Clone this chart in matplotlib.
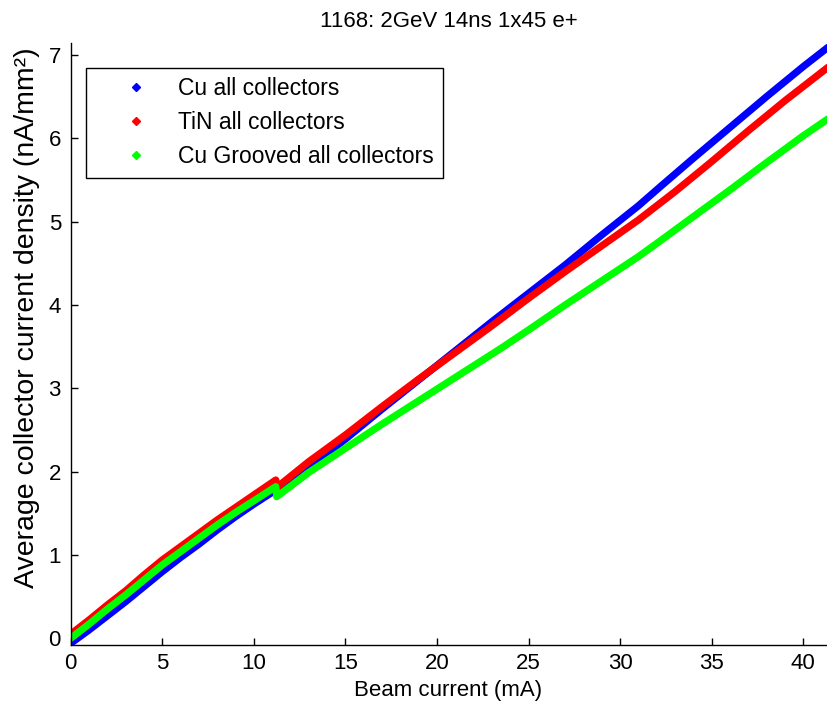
import matplotlib
matplotlib.use('Agg')
import numpy as np
import matplotlib.pyplot as plt
from matplotlib.lines import Line2D

plt.rcParams['font.family'] = ['Liberation Sans', 'DejaVu Sans']

# Beam current (mA) and collector current density (nA/mm^2)
cu_x = [0, 1, 2, 3, 4, 5, 6, 7, 8, 9, 10, 11.2,
        11.25, 13, 15, 17, 19, 21, 23, 25, 27, 29, 31, 32.2, 34, 36, 38, 40, 41.4]
cu_y = [-0.06, 0.10, 0.27, 0.44, 0.62, 0.80, 0.97, 1.13, 1.30, 1.46, 1.61, 1.78,
        1.74, 2.05, 2.39, 2.75, 3.10, 3.45, 3.80, 4.14, 4.48, 4.84, 5.19, 5.42, 5.76, 6.13, 6.50, 6.86, 7.10]

tin_x = [0, 1, 2, 3, 4, 5, 6, 7, 8, 9, 10, 11.2,
         11.25, 13, 15, 17, 19, 21, 23, 25, 27, 29, 31, 33, 35, 37, 39, 41.4]
tin_y = [0.05, 0.22, 0.40, 0.57, 0.76, 0.94, 1.10, 1.26, 1.42, 1.57, 1.72, 1.90,
         1.81, 2.12, 2.44, 2.78, 3.11, 3.43, 3.75, 4.08, 4.40, 4.71, 5.02, 5.36, 5.72, 6.09, 6.45, 6.86]

grv_x = [0, 1, 2, 3, 4, 5, 6, 7, 8, 9, 10, 11.2,
         11.25, 13, 15, 17, 18, 20, 22, 23.5, 25, 27, 29, 31, 32.2, 34, 36, 37.7, 40, 41.4]
grv_y = [0.00, 0.17, 0.35, 0.52, 0.70, 0.88, 1.04, 1.20, 1.36, 1.51, 1.65, 1.82,
         1.70, 1.99, 2.28, 2.57, 2.71, 2.99, 3.27, 3.48, 3.70, 4.00, 4.29, 4.58, 4.77, 5.06, 5.38, 5.66, 6.03, 6.24]

labels = ['Cu all collectors', 'TiN all collectors', 'Cu Grooved all collectors']
colors = ['#0000ff', '#ff0000', '#00ff00']

W, H = 827, 705
fig = plt.figure(figsize=(W / 100, H / 100), dpi=100)
ax = fig.add_axes([70.7 / W, 1 - 645 / H, (W - 70.7) / W, (645 - 43.3) / H])

# series drawn in legend order, later ones on top
for xs, ys, c in zip([cu_x, tin_x, grv_x], [cu_y, tin_y, grv_y], colors):
    ax.plot(xs, ys, color=c, linewidth=5.2, solid_capstyle='round', solid_joinstyle='round')

ax.set_xlim(0, 41.3)
ax.set_ylim(-0.08, 7.14)
ax.set_xticks(np.arange(0, 41, 5))
ax.set_yticks(np.arange(0, 8, 1))

ax.spines['top'].set_visible(False)
ax.spines['right'].set_visible(False)
for s in ['left', 'bottom']:
    ax.spines[s].set_color('black')
    ax.spines[s].set_linewidth(1.0)

ax.tick_params(direction='in', length=5, width=1, labelsize=16, colors='black')
ax.tick_params(axis='x', pad=6)
ax.tick_params(axis='y', pad=7)

ax.set_title('1168: 2GeV 14ns 1x45 e+', fontsize=16, pad=12)
ax.set_xlabel('Beam current (mA)', fontsize=16)
ax.xaxis.set_label_coords(0.499, -0.058)
ax.set_ylabel('Average collector current density (nA/mm²)', fontsize=20.5)
ax.yaxis.label.set_va('center')
ax.yaxis.set_label_coords((27 - 70.7) / (W - 70.7), (645 - 318) / (645 - 43.3))

handles = [Line2D([], [], linestyle='none', marker='D', markersize=4.5,
                  color=c, markeredgecolor=c) for c in colors]
leg = ax.legend(handles, labels, loc='upper left',
                bbox_to_anchor=(86 / W, 1 - 68.3 / H), bbox_transform=fig.transFigure,
                borderaxespad=0, fontsize=16.5, handlelength=3.6, handletextpad=0.0,
                labelspacing=0.48, borderpad=0.4, fancybox=False, framealpha=1)
leg.get_frame().set_edgecolor('black')
leg.get_frame().set_linewidth(1.0)

fig.savefig('out.png', dpi=100)
